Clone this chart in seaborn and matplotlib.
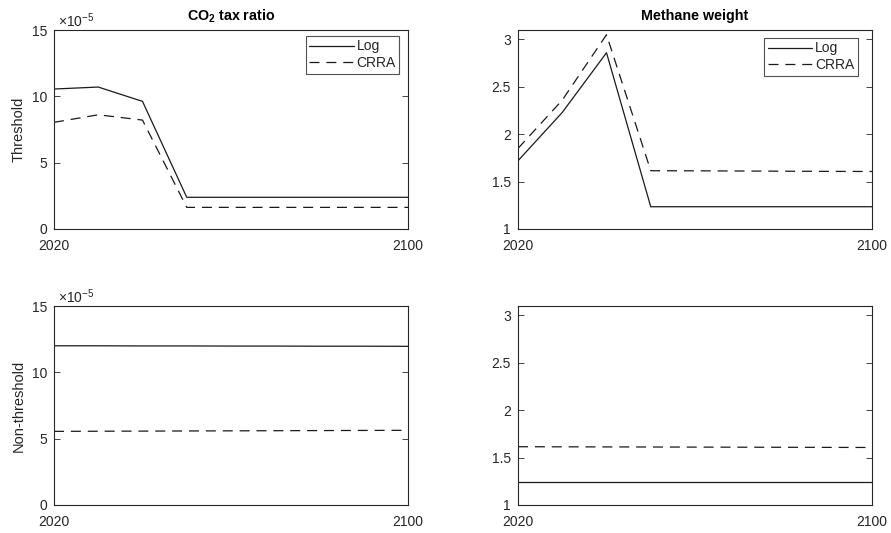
import numpy as np
import pandas as pd
import matplotlib
matplotlib.use('Agg')
import matplotlib.pyplot as plt
import seaborn as sns

# Data (CO2 values in units of 1e-5)
years = [2020, 2030, 2040, 2050, 2060, 2070, 2080, 2090, 2100]

co2_thr_log = [10.55, 10.7, 9.62, 2.39, 2.39, 2.39, 2.39, 2.39, 2.39]
co2_thr_crra = [8.04, 8.61, 8.21, 1.63, 1.63, 1.63, 1.63, 1.63, 1.63]
ch4_thr_log = [1.72, 2.23, 2.86, 1.235, 1.235, 1.235, 1.235, 1.235, 1.235]
ch4_thr_crra = [1.85, 2.36, 3.05, 1.615, 1.614, 1.612, 1.61, 1.608, 1.607]

co2_non_log = [12.0, 12.0, 11.99, 11.99, 11.98, 11.98, 11.97, 11.97, 11.96]
co2_non_crra = [5.55, 5.56, 5.57, 5.58, 5.59, 5.6, 5.61, 5.62, 5.63]
ch4_non_log = [1.24, 1.24, 1.24, 1.24, 1.24, 1.24, 1.24, 1.24, 1.24]
ch4_non_crra = [1.615, 1.614, 1.613, 1.612, 1.611, 1.61, 1.609, 1.608, 1.607]

models = ['Log', 'CRRA']
col_titles = ['CO$_\\mathbf{2}$ tax ratio', 'Methane weight']
row_labels = ['Threshold', 'Non-threshold']

sns.set_style('white')
plt.rcParams['font.family'] = ['Liberation Sans', 'DejaVu Sans']
plt.rcParams['mathtext.fontset'] = 'custom'
plt.rcParams['mathtext.rm'] = 'Liberation Sans'
plt.rcParams['mathtext.it'] = 'Liberation Sans:italic'
plt.rcParams['mathtext.bf'] = 'Liberation Sans:bold'

def make_df(log_vals, crra_vals):
    return pd.DataFrame({
        'year': years * 2,
        'value': log_vals + crra_vals,
        'model': ['Log'] * len(years) + ['CRRA'] * len(years),
    })

panels = [
    [make_df(co2_thr_log, co2_thr_crra), make_df(ch4_thr_log, ch4_thr_crra)],
    [make_df(co2_non_log, co2_non_crra), make_df(ch4_non_log, ch4_non_crra)],
]

fig = plt.figure(figsize=(8.91, 5.33), dpi=100)
lefts = [54 / 891, 518 / 891]
bottoms = [(533 - 229) / 533, (533 - 505) / 533]
w, h = 354 / 891, 199 / 533
tc = '#262626'
legend_anchor = [(0.975, 0.97), (0.96, 0.96)]

for r in range(2):
    for c in range(2):
        ax = fig.add_axes([lefts[c], bottoms[r], w, h])
        df = panels[r][c]
        sns.lineplot(data=df, x='year', y='value', style='model', style_order=models,
                     dashes={'Log': '', 'CRRA': (8, 5.5)}, color='#1a1a1a',
                     linewidth=0.9, ax=ax, legend=(r == 0))
        ax.set_xlim(2020, 2100)
        ax.set_xticks([2020, 2100])
        if c == 0:
            ax.set_ylim(0, 15)
            ax.set_yticks([0, 5, 10, 15])
            ax.text(0.01, 1.0, r'$\times10^{-5}$', transform=ax.transAxes,
                    ha='left', va='bottom', fontsize=10, color=tc)
            ax.set_ylabel(row_labels[r], fontsize=10.5, color=tc)
            ax.yaxis.set_label_coords(-0.08, 0.5)
        else:
            ax.set_ylim(1, 3.1)
            ax.set_yticks([1, 1.5, 2, 2.5, 3])
            ax.set_ylabel('')
        ax.yaxis.set_major_formatter(matplotlib.ticker.FuncFormatter(lambda v, p: f'{v:g}'))
        ax.set_xlabel('')
        ax.tick_params(axis='both', direction='in', length=4, width=0.6,
                       labelsize=10, colors=tc, left=True, right=True,
                       bottom=True, top=True)
        ax.tick_params(axis='x', pad=7)
        ax.tick_params(axis='y', pad=5)
        for s in ax.spines.values():
            s.set_visible(True)
            s.set_color(tc)
            s.set_linewidth(0.8)
        if r == 0:
            ax.set_title(col_titles[c], fontsize=10.3, fontweight='bold', color='black', pad=7)
            leg = ax.legend(loc='upper right', bbox_to_anchor=legend_anchor[c],
                            fontsize=10, frameon=True, fancybox=False,
                            handlelength=3.2, borderpad=0.25, labelspacing=0.2,
                            handletextpad=0.2, borderaxespad=0)
            leg.get_frame().set_edgecolor(tc)
            leg.get_frame().set_linewidth(0.8)

plt.savefig('out.png', dpi=100)
